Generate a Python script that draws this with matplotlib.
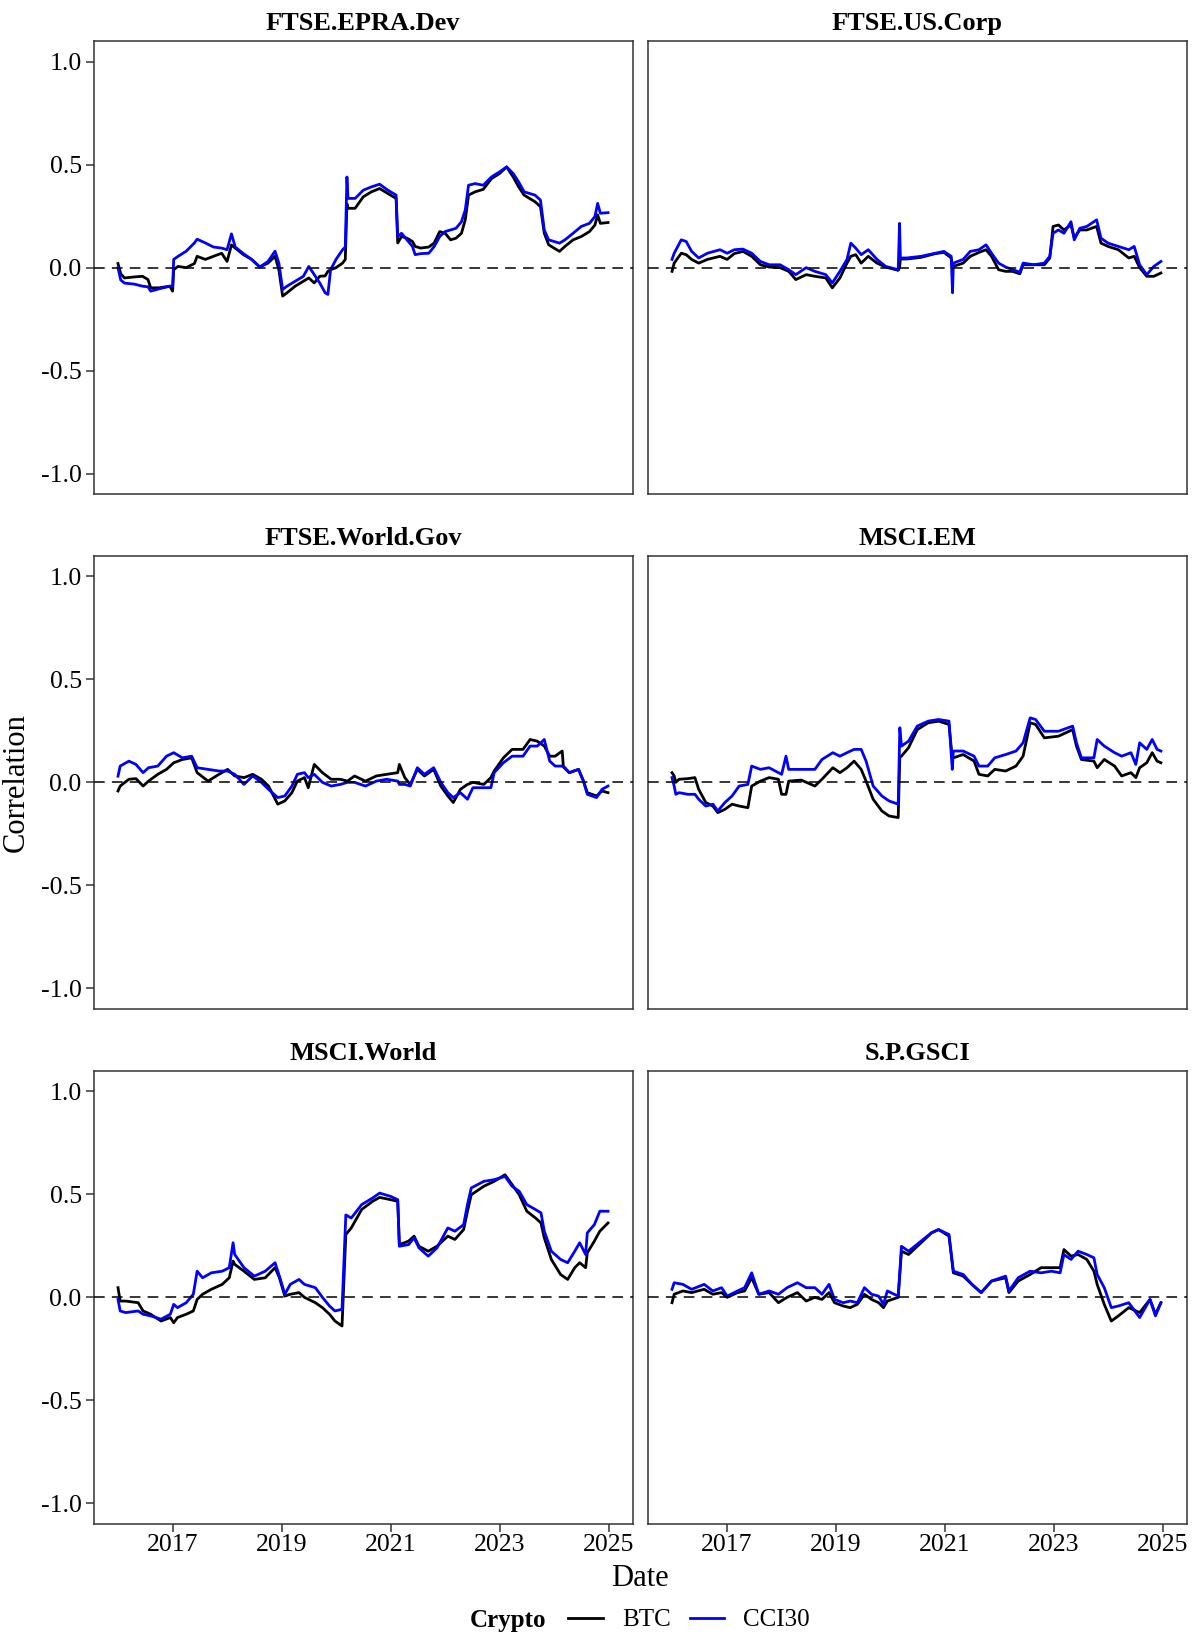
import matplotlib
matplotlib.use("Agg")
import matplotlib.pyplot as plt
import pandas as pd

plt.rcParams['font.family'] = ['Liberation Serif', 'DejaVu Serif']

panels = ["FTSE.EPRA.Dev", "FTSE.US.Corp", "FTSE.World.Gov", "MSCI.EM", "MSCI.World", "S.P.GSCI"]
cryptos = ["BTC", "CCI30"]
year_ticks = [2017, 2019, 2021, 2023, 2025]
y_ticks = [-1.0, -0.5, 0.0, 0.5, 1.0]
y_tick_labels = ["-1.0", "-0.5", "0.0", "0.5", "1.0"]

# ---- FTSE.EPRA.Dev (dates as decimal years) ----
epra_t = [2016.00, 2016.05, 2016.12, 2016.30, 2016.45, 2016.55, 2016.60, 2016.75, 2016.95, 2017.00,
          2017.02, 2017.10, 2017.25, 2017.40, 2017.45, 2017.60, 2017.75, 2017.90, 2018.00, 2018.08,
          2018.15, 2018.30, 2018.45, 2018.60, 2018.75, 2018.88, 2018.95, 2019.02, 2019.10, 2019.25,
          2019.40, 2019.50, 2019.60, 2019.70, 2019.80, 2019.85, 2019.90, 2020.00, 2020.12, 2020.17,
          2020.20, 2020.22, 2020.35, 2020.50, 2020.65, 2020.80, 2020.95, 2021.05, 2021.10, 2021.13,
          2021.20, 2021.30, 2021.40, 2021.45, 2021.55, 2021.70, 2021.80, 2021.90, 2022.00, 2022.10,
          2022.20, 2022.30, 2022.37, 2022.43, 2022.55, 2022.70, 2022.85, 2023.00, 2023.13, 2023.25,
          2023.35, 2023.45, 2023.55, 2023.65, 2023.75, 2023.82, 2023.90, 2024.00, 2024.10, 2024.20,
          2024.35, 2024.50, 2024.65, 2024.75, 2024.80, 2024.85, 2024.99]
epra_btc = [0.020, -0.030, -0.050, -0.045, -0.042, -0.058, -0.098, -0.098, -0.090, -0.114,
            -0.010, 0.006, 0.000, 0.020, 0.055, 0.040, 0.055, 0.070, 0.030, 0.110,
            0.095, 0.063, 0.040, 0.003, 0.022, 0.055, -0.010, -0.138, -0.122, -0.090,
            -0.066, -0.050, -0.074, -0.042, -0.040, -0.018, -0.010, 0.000, 0.022, 0.040,
            0.310, 0.288, 0.288, 0.344, 0.368, 0.384, 0.360, 0.344, 0.336, 0.120,
            0.151, 0.143, 0.127, 0.103, 0.095, 0.100, 0.120, 0.175, 0.167, 0.135,
            0.143, 0.167, 0.232, 0.352, 0.368, 0.380, 0.432, 0.457, 0.489, 0.440,
            0.392, 0.352, 0.336, 0.320, 0.296, 0.167, 0.111, 0.095, 0.079, 0.103,
            0.135, 0.151, 0.175, 0.207, 0.256, 0.215, 0.219]
epra_cci = [0.000, -0.060, -0.075, -0.080, -0.090, -0.093, -0.114, -0.103, -0.090, -0.090,
            0.040, 0.055, 0.080, 0.120, 0.138, 0.120, 0.100, 0.095, 0.087, 0.164,
            0.100, 0.068, 0.040, 0.003, 0.030, 0.080, 0.022, -0.106, -0.090, -0.066,
            -0.042, 0.006, -0.034, -0.074, -0.122, -0.130, -0.010, 0.040, 0.087, 0.100,
            0.440, 0.336, 0.336, 0.376, 0.392, 0.405, 0.376, 0.360, 0.352, 0.151,
            0.167, 0.135, 0.103, 0.063, 0.068, 0.070, 0.103, 0.151, 0.175, 0.183,
            0.191, 0.223, 0.280, 0.400, 0.408, 0.400, 0.440, 0.465, 0.489, 0.457,
            0.416, 0.368, 0.360, 0.352, 0.328, 0.183, 0.135, 0.127, 0.119, 0.135,
            0.167, 0.200, 0.215, 0.248, 0.312, 0.264, 0.267]

# ---- FTSE.US.Corp ----
usc_t = [2016.00, 2016.04, 2016.17, 2016.26, 2016.36, 2016.49, 2016.65, 2016.88, 2017.01, 2017.14,
         2017.30, 2017.46, 2017.62, 2017.78, 2017.98, 2018.14, 2018.27, 2018.46, 2018.62, 2018.82,
         2018.94, 2019.08, 2019.21, 2019.28, 2019.37, 2019.47, 2019.60, 2019.76, 2019.92, 2020.15,
         2020.175, 2020.19, 2020.31, 2020.57, 2020.83, 2020.99, 2021.12, 2021.145, 2021.16, 2021.34,
         2021.47, 2021.63, 2021.76, 2021.86, 2021.99, 2022.12, 2022.25, 2022.38, 2022.44, 2022.64,
         2022.83, 2022.93, 2022.99, 2023.09, 2023.19, 2023.32, 2023.38, 2023.48, 2023.61, 2023.79,
         2023.87, 2024.00, 2024.19, 2024.38, 2024.48, 2024.58, 2024.71, 2024.84, 2024.97]
usc_btc = [-0.018, 0.022, 0.070, 0.063, 0.040, 0.022, 0.040, 0.055, 0.040, 0.068,
           0.079, 0.055, 0.014, 0.003, 0.000, -0.018, -0.058, -0.034, -0.042, -0.050,
           -0.098, -0.050, 0.022, 0.055, 0.063, 0.022, 0.055, 0.022, 0.003, -0.013,
           0.000, 0.042, 0.042, 0.050, 0.068, 0.074, 0.047, 0.000, 0.006, 0.022,
           0.055, 0.074, 0.087, 0.055, -0.010, -0.018, -0.018, -0.030, 0.014, 0.014,
           0.014, 0.047, 0.200, 0.207, 0.183, 0.207, 0.143, 0.183, 0.183, 0.200,
           0.119, 0.103, 0.087, 0.047, 0.055, 0.000, -0.042, -0.042, -0.026]
usc_cci = [0.040, 0.070, 0.135, 0.127, 0.079, 0.047, 0.070, 0.087, 0.070, 0.087,
           0.090, 0.070, 0.030, 0.014, 0.014, -0.010, -0.034, 0.000, -0.018, -0.034,
           -0.074, -0.018, 0.040, 0.119, 0.095, 0.063, 0.087, 0.040, 0.006, -0.010,
           0.215, 0.047, 0.047, 0.055, 0.070, 0.079, 0.055, -0.122, 0.022, 0.040,
           0.079, 0.087, 0.111, 0.070, 0.022, 0.003, -0.010, -0.022, 0.022, 0.014,
           0.022, 0.055, 0.167, 0.183, 0.167, 0.223, 0.135, 0.191, 0.200, 0.232,
           0.143, 0.119, 0.103, 0.087, 0.103, 0.014, -0.034, 0.006, 0.030]

# ---- FTSE.World.Gov ----
wgov_t = [2016.00, 2016.04, 2016.20, 2016.33, 2016.46, 2016.56, 2016.73, 2016.89, 2017.02, 2017.18,
          2017.35, 2017.45, 2017.65, 2017.85, 2018.01, 2018.14, 2018.31, 2018.47, 2018.63, 2018.76,
          2018.93, 2019.06, 2019.19, 2019.29, 2019.42, 2019.49, 2019.60, 2019.75, 2019.91, 2020.08,
          2020.21, 2020.34, 2020.54, 2020.74, 2020.93, 2021.13, 2021.16, 2021.26, 2021.36, 2021.49,
          2021.62, 2021.79, 2021.92, 2022.05, 2022.15, 2022.28, 2022.41, 2022.51, 2022.71, 2022.84,
          2022.90, 2023.07, 2023.23, 2023.43, 2023.56, 2023.69, 2023.82, 2023.92, 2024.02, 2024.15,
          2024.17, 2024.28, 2024.45, 2024.54, 2024.61, 2024.78, 2024.88, 2024.99]
wgov_btc = [-0.042, -0.018, 0.015, 0.018, -0.018, 0.006, 0.039, 0.063, 0.095, 0.111,
            0.119, 0.047, 0.006, 0.039, 0.063, 0.031, 0.023, 0.039, 0.015, -0.018,
            -0.106, -0.090, -0.050, 0.006, 0.023, -0.026, 0.087, 0.047, 0.015, 0.015,
            0.006, 0.031, 0.006, 0.031, 0.039, 0.047, 0.087, 0.023, -0.010, 0.063,
            0.031, 0.063, -0.018, -0.066, -0.098, -0.034, -0.010, 0.000, -0.010, 0.023,
            0.055, 0.119, 0.160, 0.160, 0.208, 0.200, 0.176, 0.127, 0.127, 0.152,
            0.079, 0.047, 0.063, 0.006, -0.050, -0.066, -0.042, -0.050]
wgov_cci = [0.030, 0.079, 0.103, 0.087, 0.047, 0.071, 0.079, 0.127, 0.144, 0.119,
            0.127, 0.071, 0.063, 0.055, 0.055, 0.039, -0.010, 0.031, 0.000, -0.034,
            -0.074, -0.066, -0.018, 0.039, 0.047, 0.023, 0.039, 0.000, -0.018, -0.010,
            0.000, 0.000, -0.018, 0.006, 0.015, 0.006, -0.010, -0.010, -0.018, 0.071,
            0.039, 0.071, 0.000, -0.050, -0.074, -0.050, -0.082, -0.026, -0.026, -0.026,
            0.047, 0.095, 0.127, 0.127, 0.176, 0.176, 0.208, 0.103, 0.079, 0.079,
            0.075, 0.047, 0.063, 0.006, -0.058, -0.074, -0.034, -0.018]

# ---- MSCI.EM ----
em_t = [2016.00, 2016.04, 2016.07, 2016.13, 2016.29, 2016.42, 2016.49, 2016.62, 2016.75, 2016.84,
        2016.97, 2017.10, 2017.23, 2017.39, 2017.46, 2017.62, 2017.78, 2017.95, 2018.01, 2018.09,
        2018.14, 2018.37, 2018.62, 2018.75, 2018.95, 2019.08, 2019.21, 2019.34, 2019.47, 2019.56,
        2019.69, 2019.85, 2019.98, 2020.15, 2020.18, 2020.21, 2020.34, 2020.50, 2020.70, 2020.89,
        2021.08, 2021.14, 2021.16, 2021.34, 2021.54, 2021.63, 2021.79, 2021.92, 2022.12, 2022.31,
        2022.44, 2022.57, 2022.67, 2022.83, 2023.09, 2023.35, 2023.42, 2023.51, 2023.74, 2023.80,
        2023.93, 2024.12, 2024.25, 2024.42, 2024.51, 2024.58, 2024.71, 2024.81, 2024.90, 2024.97]
em_btc = [0.047, 0.031, 0.000, 0.015, 0.018, 0.023, -0.034, -0.098, -0.115, -0.147,
          -0.131, -0.106, -0.115, -0.123, -0.018, 0.006, 0.023, 0.015, -0.058, -0.058,
          0.006, 0.011, -0.018, 0.015, 0.071, 0.047, 0.071, 0.103, 0.063, 0.006,
          -0.082, -0.139, -0.163, -0.171, 0.127, 0.127, 0.168, 0.256, 0.289, 0.297,
          0.281, 0.119, 0.119, 0.135, 0.103, 0.039, 0.031, 0.063, 0.055, 0.079,
          0.127, 0.289, 0.281, 0.216, 0.224, 0.256, 0.176, 0.111, 0.103, 0.071,
          0.111, 0.079, 0.031, 0.047, 0.023, 0.071, 0.095, 0.144, 0.103, 0.095]
em_cci = [0.023, -0.018, -0.058, -0.050, -0.058, -0.058, -0.082, -0.115, -0.106, -0.139,
          -0.098, -0.066, -0.018, -0.010, 0.079, 0.063, 0.071, 0.047, 0.039, 0.127,
          0.063, 0.063, 0.063, 0.111, 0.144, 0.127, 0.144, 0.160, 0.160, 0.103,
          -0.018, -0.066, -0.090, -0.106, 0.265, 0.176, 0.200, 0.273, 0.297, 0.305,
          0.297, 0.063, 0.152, 0.152, 0.127, 0.079, 0.079, 0.119, 0.135, 0.152,
          0.192, 0.313, 0.305, 0.248, 0.248, 0.273, 0.192, 0.119, 0.119, 0.208,
          0.176, 0.144, 0.127, 0.144, 0.087, 0.192, 0.160, 0.208, 0.160, 0.152]

# ---- MSCI.World ----
world_t = [2016.00, 2016.04, 2016.14, 2016.37, 2016.46, 2016.60, 2016.79, 2016.96, 2017.02, 2017.09,
           2017.25, 2017.38, 2017.45, 2017.55, 2017.71, 2017.91, 2018.04, 2018.11, 2018.14, 2018.31,
           2018.50, 2018.70, 2018.88, 2018.96, 2019.06, 2019.16, 2019.32, 2019.42, 2019.62, 2019.75,
           2019.88, 2019.98, 2020.11, 2020.18, 2020.28, 2020.47, 2020.67, 2020.80, 2021.00, 2021.13,
           2021.16, 2021.33, 2021.43, 2021.52, 2021.69, 2021.85, 2022.05, 2022.18, 2022.34, 2022.41,
           2022.48, 2022.71, 2022.90, 2023.10, 2023.23, 2023.36, 2023.50, 2023.66, 2023.76, 2023.82,
           2023.95, 2024.12, 2024.25, 2024.38, 2024.47, 2024.58, 2024.61, 2024.74, 2024.84, 2024.99]
world_btc = [0.047, -0.018, -0.018, -0.026, -0.066, -0.082, -0.115, -0.098, -0.123, -0.098,
             -0.082, -0.066, -0.010, 0.015, 0.039, 0.063, 0.095, 0.176, 0.160, 0.127,
             0.087, 0.095, 0.144, 0.095, 0.006, 0.015, 0.023, 0.000, -0.026, -0.050,
             -0.082, -0.115, -0.139, 0.305, 0.337, 0.426, 0.466, 0.485, 0.474, 0.466,
             0.256, 0.273, 0.297, 0.248, 0.224, 0.248, 0.297, 0.281, 0.329, 0.418,
             0.498, 0.539, 0.563, 0.595, 0.547, 0.498, 0.418, 0.385, 0.361, 0.289,
             0.184, 0.111, 0.087, 0.144, 0.168, 0.144, 0.216, 0.273, 0.321, 0.361]
world_cci = [-0.010, -0.066, -0.074, -0.066, -0.082, -0.090, -0.106, -0.082, -0.034, -0.050,
             -0.026, 0.015, 0.127, 0.095, 0.119, 0.127, 0.144, 0.265, 0.208, 0.144,
             0.103, 0.127, 0.168, 0.103, 0.015, 0.063, 0.087, 0.063, 0.047, 0.000,
             -0.042, -0.066, -0.058, 0.400, 0.385, 0.450, 0.482, 0.506, 0.490, 0.474,
             0.248, 0.256, 0.289, 0.240, 0.200, 0.240, 0.337, 0.321, 0.353, 0.450,
             0.531, 0.563, 0.571, 0.587, 0.539, 0.515, 0.450, 0.426, 0.410, 0.321,
             0.224, 0.184, 0.168, 0.224, 0.265, 0.208, 0.313, 0.353, 0.418, 0.418]

# ---- S.P.GSCI ----
gsci_t = [2016.00, 2016.04, 2016.20, 2016.36, 2016.59, 2016.75, 2016.91, 2017.01, 2017.20, 2017.33,
          2017.46, 2017.59, 2017.78, 2017.95, 2018.11, 2018.30, 2018.46, 2018.62, 2018.75, 2018.88,
          2018.98, 2019.14, 2019.27, 2019.40, 2019.53, 2019.66, 2019.79, 2019.88, 2019.95, 2020.15,
          2020.21, 2020.34, 2020.57, 2020.76, 2020.89, 2021.08, 2021.16, 2021.34, 2021.50, 2021.67,
          2021.86, 2022.12, 2022.18, 2022.35, 2022.57, 2022.77, 2022.96, 2023.12, 2023.19, 2023.32,
          2023.45, 2023.61, 2023.74, 2023.80, 2023.93, 2024.06, 2024.19, 2024.38, 2024.58, 2024.77,
          2024.87, 2024.97]
gsci_btc = [-0.026, 0.015, 0.031, 0.023, 0.039, 0.015, 0.023, 0.000, 0.023, 0.031,
            0.095, 0.015, 0.023, -0.026, 0.000, 0.023, -0.018, 0.000, -0.010, 0.023,
            -0.026, -0.042, -0.050, -0.034, 0.015, -0.010, -0.026, -0.050, -0.018, 0.000,
            0.224, 0.208, 0.265, 0.313, 0.329, 0.297, 0.119, 0.103, 0.063, 0.023,
            0.079, 0.095, 0.023, 0.079, 0.111, 0.144, 0.144, 0.144, 0.232, 0.200,
            0.208, 0.184, 0.127, 0.063, -0.034, -0.115, -0.090, -0.050, -0.074, -0.010,
            -0.082, -0.026]
gsci_cci = [0.039, 0.071, 0.063, 0.039, 0.063, 0.031, 0.047, 0.006, 0.031, 0.047,
            0.119, 0.015, 0.031, 0.015, 0.047, 0.071, 0.047, 0.047, 0.015, 0.063,
            -0.010, -0.026, -0.018, -0.026, 0.047, 0.015, 0.006, -0.034, 0.031, 0.006,
            0.248, 0.224, 0.273, 0.313, 0.329, 0.305, 0.127, 0.111, 0.063, 0.023,
            0.079, 0.103, 0.031, 0.095, 0.127, 0.119, 0.127, 0.119, 0.208, 0.184,
            0.224, 0.208, 0.192, 0.111, 0.047, -0.050, -0.042, -0.026, -0.098, -0.010,
            -0.090, -0.026]

panel_times = [epra_t, usc_t, wgov_t, em_t, world_t, gsci_t]
panel_btc = [epra_btc, usc_btc, wgov_btc, em_btc, world_btc, gsci_btc]
panel_cci = [epra_cci, usc_cci, wgov_cci, em_cci, world_cci, gsci_cci]


def to_date(y):
    yr = int(y)
    return pd.Timestamp(year=yr, month=1, day=1) + pd.Timedelta(days=(y - yr) * 365.25)


W, H = 1192, 1641
fig = plt.figure(figsize=(W / 100, H / 100), dpi=100)

col_x = [93.5, 647.5]
col_w = 539.0
row_top = [41.0, 555.7, 1070.7]
row_h = 453.3

all_dates = [to_date(v) for ts in panel_times for v in ts]
dmin, dmax = min(all_dates), max(all_dates)
span = dmax - dmin
xlo, xhi = dmin - span * 0.05, dmax + span * 0.05

frame_col = "#333333"
blue = "#0000FF"
handles = None
for i, name in enumerate(panels):
    r, c = divmod(i, 2)
    ax = fig.add_axes([col_x[c] / W, 1 - (row_top[r] + row_h) / H, col_w / W, row_h / H])
    dates = [to_date(v) for v in panel_times[i]]
    assert len(dates) == len(panel_btc[i]) == len(panel_cci[i]), name
    l1, = ax.plot(dates, panel_btc[i], color="black", lw=2.0, label=cryptos[0], zorder=2)
    l2, = ax.plot(dates, panel_cci[i], color=blue, lw=2.0, label=cryptos[1], zorder=2.5)
    handles = [l1, l2]
    ax.axhline(0, color="black", lw=1.1, linestyle=(0, (7.0, 4.7)), zorder=3)
    ax.set_xlim(xlo, xhi)
    ax.set_ylim(-1.1, 1.1)
    ax.set_title(name, fontsize=19, fontweight="bold", pad=8)
    for s in ax.spines.values():
        s.set_color(frame_col)
        s.set_linewidth(1.1)
    ax.set_xticks([pd.Timestamp(year=y, month=1, day=1) for y in year_ticks])
    ax.set_xticklabels([str(y) for y in year_ticks])
    ax.set_yticks(y_ticks)
    ax.set_yticklabels(y_tick_labels)
    ax.tick_params(axis="both", colors=frame_col, labelcolor="black", labelsize=18.5,
                   length=5.5, width=1.1, direction="out")
    ax.tick_params(axis="x", pad=1.5)
    ax.tick_params(axis="y", pad=3)
    if c == 1:
        ax.tick_params(axis="y", left=False, labelleft=False)
    if r < 2:
        ax.tick_params(axis="x", bottom=False, labelbottom=False)

fig.text(640 / W, 1 - 1579 / H, "Date", ha="center", va="center", fontsize=22)
fig.text(16 / W, 1 - 782.5 / H, "Correlation", ha="center", va="center", rotation=90, fontsize=22)

fig.text(546 / W, 1 - 1620 / H, "Crypto", ha="right", va="center", fontsize=18, fontweight="bold")
fig.legend(handles=handles, labels=cryptos, ncol=2, loc="center",
           bbox_to_anchor=(689.3 / W, 1 - 1620 / H), frameon=False, fontsize=18,
           handlelength=1.37, handletextpad=0.77, columnspacing=0.77, borderpad=0.2)

fig.savefig("out.png", dpi=100)
